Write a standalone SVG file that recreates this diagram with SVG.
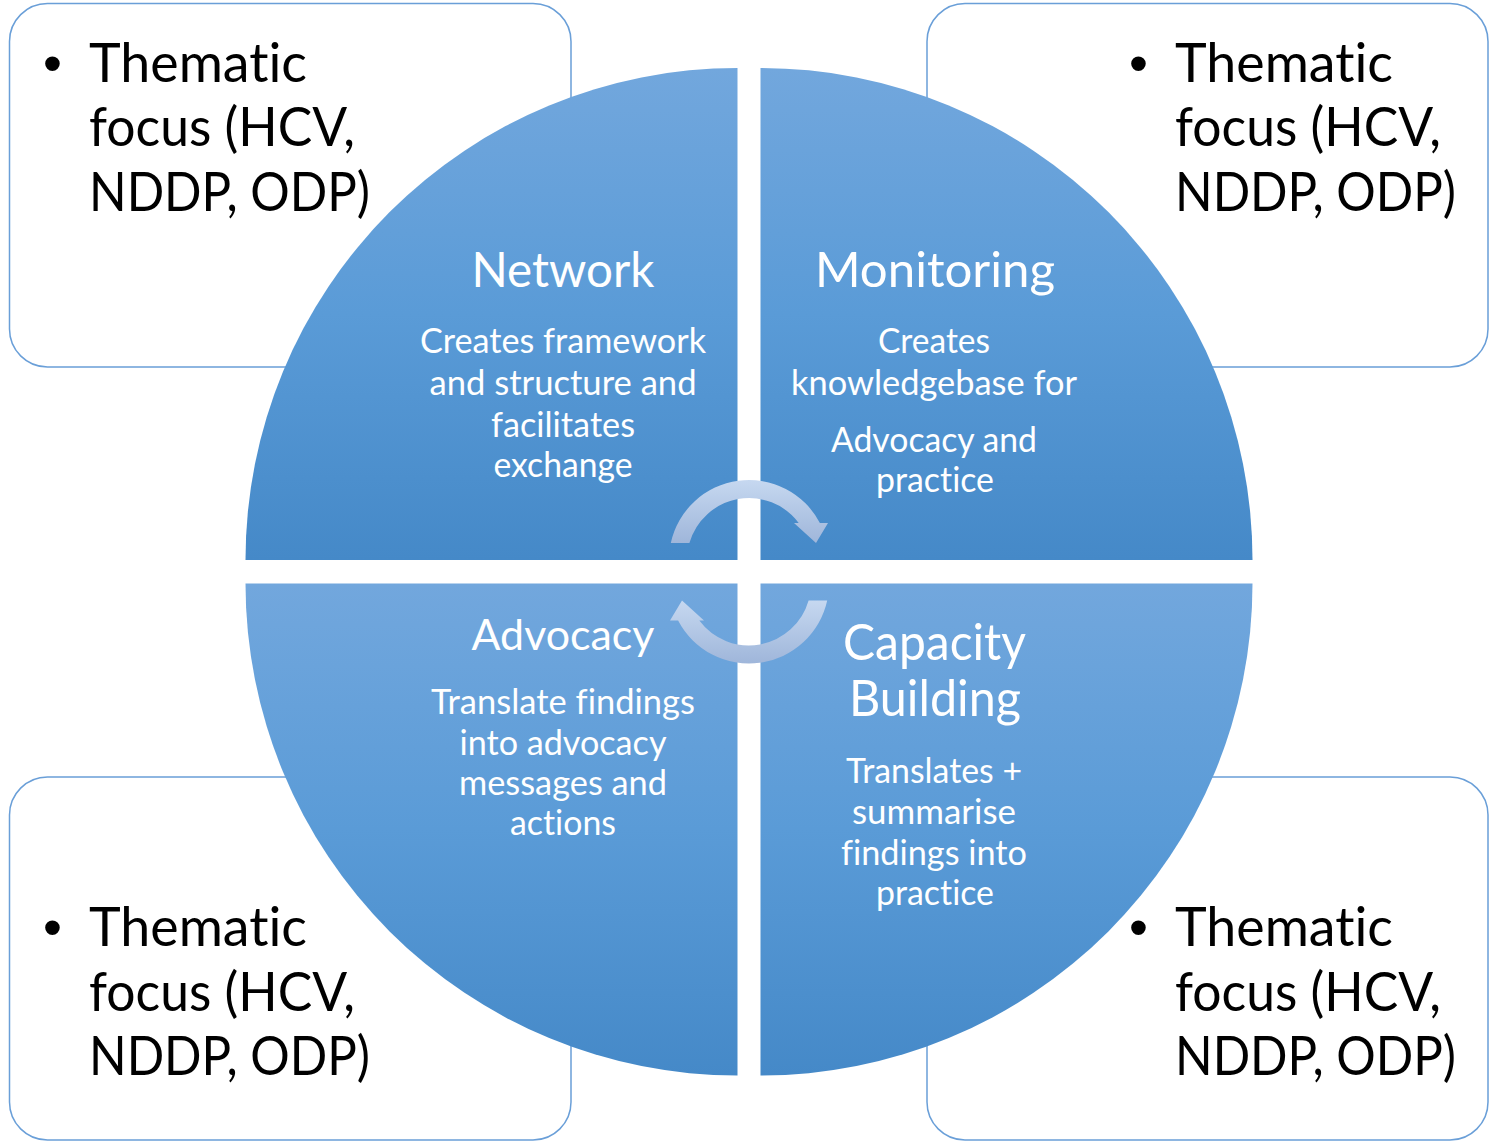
<svg xmlns="http://www.w3.org/2000/svg" width="1491" height="1142" viewBox="0 0 1491 1142">
<defs>
<linearGradient id="gq" x1="0" y1="0" x2="0" y2="1">
<stop offset="0" stop-color="#72a7dd"/>
<stop offset="0.5" stop-color="#5a9bd7"/>
<stop offset="1" stop-color="#4589c8"/>
</linearGradient>
<linearGradient id="ga" x1="0" y1="0" x2="0" y2="1">
<stop offset="0" stop-color="#c6d8f0"/>
<stop offset="1" stop-color="#9fb6da"/>
</linearGradient>
<linearGradient id="gb" x1="0" y1="1" x2="0" y2="0">
<stop offset="0" stop-color="#c6d8f0"/>
<stop offset="1" stop-color="#9fb6da"/>
</linearGradient>
<style>
text{font-variant-ligatures:none}
.box{fill:#fff;stroke:#6a9fd8;stroke-width:1.5}
.q{fill:url(#gq)}
.bt{font-family:Lato,"Open Sans",sans-serif;font-size:54px;fill:#000}
.bul{font-family:"Liberation Sans",Arial,sans-serif;font-size:54px;fill:#000}
.ti{font-family:Lato,"Open Sans",sans-serif;fill:#fff;text-anchor:middle}
.tx{font-family:Lato,"Open Sans",sans-serif;font-size:34px;fill:#fff;text-anchor:middle}
</style>
</defs>

<g id="box-tl">
<rect class="box" x="9.5" y="3.5" width="561.5" height="363.5" rx="38"/>
<text class="bul" x="43" y="82">•</text>
<text class="bt" x="89" y="82" textLength="218" lengthAdjust="spacingAndGlyphs">Thematic</text>
<text class="bt" x="89" y="146" textLength="266" lengthAdjust="spacingAndGlyphs">focus (HCV,</text>
<text class="bt" x="89" y="211" textLength="281" lengthAdjust="spacingAndGlyphs">NDDP, ODP)</text>
</g>
<g id="box-tr">
<rect class="box" x="927" y="3.5" width="561" height="363.5" rx="38"/>
<text class="bul" x="1129" y="82">•</text>
<text class="bt" x="1175" y="82" textLength="218" lengthAdjust="spacingAndGlyphs">Thematic</text>
<text class="bt" x="1175" y="146" textLength="266" lengthAdjust="spacingAndGlyphs">focus (HCV,</text>
<text class="bt" x="1175" y="211" textLength="281" lengthAdjust="spacingAndGlyphs">NDDP, ODP)</text>
</g>
<g id="box-bl">
<rect class="box" x="9.5" y="777" width="561.5" height="363" rx="38"/>
<text class="bul" x="43" y="946">•</text>
<text class="bt" x="89" y="946" textLength="218" lengthAdjust="spacingAndGlyphs">Thematic</text>
<text class="bt" x="89" y="1011" textLength="266" lengthAdjust="spacingAndGlyphs">focus (HCV,</text>
<text class="bt" x="89" y="1075" textLength="281" lengthAdjust="spacingAndGlyphs">NDDP, ODP)</text>
</g>
<g id="box-br">
<rect class="box" x="927" y="777" width="561" height="363" rx="38"/>
<text class="bul" x="1129" y="946">•</text>
<text class="bt" x="1175" y="946" textLength="218" lengthAdjust="spacingAndGlyphs">Thematic</text>
<text class="bt" x="1175" y="1011" textLength="266" lengthAdjust="spacingAndGlyphs">focus (HCV,</text>
<text class="bt" x="1175" y="1075" textLength="281" lengthAdjust="spacingAndGlyphs">NDDP, ODP)</text>
</g>

<g id="q-network">
<path class="q" d="M737.5,560 L245.5,560 A492,492 0 0 1 737.5,68 Z"/>
<text class="ti" x="563" y="287" font-size="48" textLength="183" lengthAdjust="spacingAndGlyphs">Network</text>
<text class="tx" x="563" y="353" textLength="286" lengthAdjust="spacingAndGlyphs">Creates framework</text>
<text class="tx" x="563" y="395" textLength="267" lengthAdjust="spacingAndGlyphs">and structure and</text>
<text class="tx" x="563" y="437" textLength="144" lengthAdjust="spacingAndGlyphs">facilitates</text>
<text class="tx" x="563" y="477" textLength="139" lengthAdjust="spacingAndGlyphs">exchange</text>
</g>
<g id="q-monitoring">
<path class="q" d="M760.5,560 L760.5,68 A492,492 0 0 1 1252.5,560 Z"/>
<text class="ti" x="935" y="287" font-size="48" textLength="240" lengthAdjust="spacingAndGlyphs">Monitoring</text>
<text class="tx" x="934" y="353" textLength="112" lengthAdjust="spacingAndGlyphs">Creates</text>
<text class="tx" x="934" y="395" textLength="286" lengthAdjust="spacingAndGlyphs">knowledgebase for</text>
<text class="tx" x="934" y="452" textLength="206" lengthAdjust="spacingAndGlyphs">Advocacy and</text>
<text class="tx" x="935" y="492" textLength="118" lengthAdjust="spacingAndGlyphs">practice</text>
</g>
<g id="q-advocacy">
<path class="q" d="M737.5,583.5 L737.5,1075.5 A492,492 0 0 1 245.5,583.5 Z"/>
<text class="ti" x="563" y="650" font-size="43" textLength="183" lengthAdjust="spacingAndGlyphs">Advocacy</text>
<text class="tx" x="563" y="714" textLength="264" lengthAdjust="spacingAndGlyphs">Translate findings</text>
<text class="tx" x="563" y="755" textLength="207" lengthAdjust="spacingAndGlyphs">into advocacy</text>
<text class="tx" x="563" y="795" textLength="208" lengthAdjust="spacingAndGlyphs">messages and</text>
<text class="tx" x="563" y="835" textLength="106" lengthAdjust="spacingAndGlyphs">actions</text>
</g>
<g id="q-capacity">
<path class="q" d="M760.5,583.5 L1252.5,583.5 A492,492 0 0 1 760.5,1075.5 Z"/>
<text class="ti" x="934.5" y="660" font-size="51" textLength="183" lengthAdjust="spacingAndGlyphs">Capacity</text>
<text class="ti" x="935" y="716" font-size="51" textLength="172" lengthAdjust="spacingAndGlyphs">Building</text>
<text class="tx" x="934" y="783" textLength="176" lengthAdjust="spacingAndGlyphs">Translates +</text>
<text class="tx" x="934" y="824" textLength="164" lengthAdjust="spacingAndGlyphs">summarise</text>
<text class="tx" x="934" y="865" textLength="186" lengthAdjust="spacingAndGlyphs">findings into</text>
<text class="tx" x="935" y="905" textLength="118" lengthAdjust="spacingAndGlyphs">practice</text>
</g>

<g id="connectors">
<path fill="url(#ga)" d="M670.8,543 A80,80 0 0 1 819.9,523 L828,523 L816,543 L794,523 L798.7,523 A62,62 0 0 0 689.4,543 Z"/>
<path fill="url(#gb)" transform="rotate(180 749 571.75)" d="M670.8,543 A80,80 0 0 1 819.9,523 L828,523 L816,543 L794,523 L798.7,523 A62,62 0 0 0 689.4,543 Z"/>
</g>
</svg>
